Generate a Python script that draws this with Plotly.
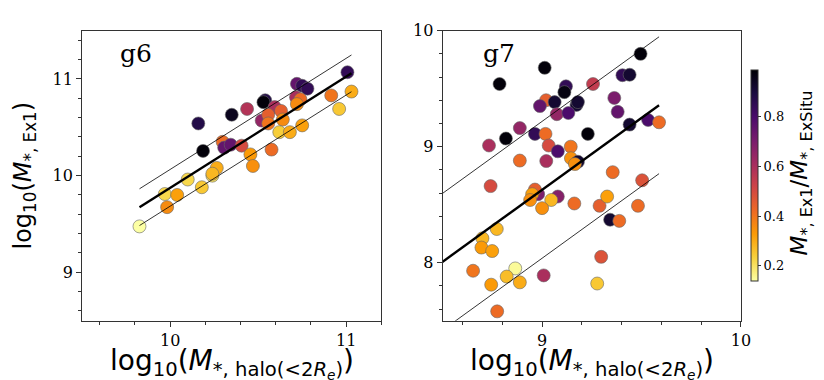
import plotly.graph_objects as go
import numpy as np

# g6 sample
g6_x = [9.826, 9.983, 9.97, 10.04, 10.10, 10.18, 10.24, 10.265, 10.24, 10.187, 10.16, 10.35, 10.437,
        10.298, 10.307, 10.344, 10.406, 10.456, 10.47, 10.576, 10.54, 10.53, 10.594, 10.52, 10.557,
        10.557, 10.63, 10.64, 10.62, 10.68, 10.75, 10.72, 10.75, 10.78, 10.715, 10.74, 10.72, 10.915,
        10.96, 11.007, 11.03]
g6_y = [9.475, 9.674, 9.81, 9.80, 9.96, 9.88, 10.0, 10.08, 10.02, 10.256, 10.54, 10.63, 10.69,
        10.35, 10.29, 10.32, 10.31, 10.22, 10.10, 10.27, 10.78, 10.76, 10.71, 10.57, 10.63,
        10.54, 10.67, 10.58, 10.45, 10.45, 10.52, 10.95, 10.93, 10.90, 10.81, 10.79, 10.74, 10.83,
        10.69, 11.07, 10.87]
g6_c = [0.12, 0.36, 0.22, 0.32, 0.22, 0.25, 0.2, 0.3, 0.28, 0.98, 0.88, 0.95, 0.58,
        0.42, 0.75, 0.75, 0.5, 0.33, 0.35, 0.42, 0.88, 0.98, 0.6, 0.65, 0.45,
        0.4, 0.45, 0.36, 0.24, 0.3, 0.32, 0.75, 0.85, 0.85, 0.6, 0.42, 0.36, 0.4,
        0.25, 0.85, 0.3]

# g7 sample
g7_x = [9.495, 9.013, 8.786, 9.404, 9.44, 9.12, 9.112, 9.256, 9.02, 9.063, 8.989, 9.074, 9.173,
        9.18, 9.132, 9.363, 9.38, 9.44, 9.533, 9.588, 8.888, 8.818, 8.964, 9.017, 9.23, 8.733,
        9.033, 9.079, 9.144, 8.888, 9.021, 9.145, 9.18, 9.165, 9.355, 9.503, 8.741, 8.98,
        8.964, 8.95, 8.94, 9.079, 9.046, 9.0, 9.162, 9.289, 9.327, 9.482, 9.342, 9.388, 8.772,
        8.70, 8.695, 8.749, 8.653, 8.865, 8.822, 8.888, 8.744, 9.008, 9.297, 9.277, 8.774]
g7_y = [9.80, 9.68, 9.54, 9.616, 9.62, 9.52, 9.47, 9.54, 9.40, 9.384, 9.35, 9.28, 9.36,
        9.384, 9.29, 9.42, 9.30, 9.19, 9.23, 9.21, 9.16, 9.07, 9.11, 9.11, 9.11, 9.01,
        9.01, 8.96, 9.00, 8.88, 8.876, 8.90, 8.87, 8.85, 8.78, 8.71, 8.66, 8.59,
        8.63, 8.59, 8.54, 8.57, 8.54, 8.47, 8.51, 8.49, 8.57, 8.49, 8.37, 8.36, 8.29,
        8.21, 8.13, 8.10, 7.93, 7.95, 7.88, 7.83, 7.81, 7.89, 8.05, 7.82, 7.58]
g7_c = [0.98, 0.98, 0.98, 0.85, 0.92, 0.85, 0.97, 0.55, 0.45, 0.92, 0.75, 0.65, 0.92,
        0.92, 0.8, 0.7, 0.75, 0.92, 0.8, 0.42, 0.65, 0.98, 0.85, 0.42, 0.98, 0.6,
        0.5, 0.8, 0.4, 0.42, 0.6, 0.35, 0.92, 0.35, 0.42, 0.48, 0.5, 0.7,
        0.45, 0.32, 0.35, 0.68, 0.28, 0.35, 0.42, 0.45, 0.32, 0.42, 0.92, 0.42, 0.28,
        0.28, 0.33, 0.32, 0.4, 0.15, 0.27, 0.3, 0.33, 0.6, 0.48, 0.25, 0.42]

# fit: slope, intercept, scatter, x-range
g6_fit = [1.15, -1.626, 0.19]
g6_fit_x = [min(g6_x), max(g6_x)]
g7_fit = [1.24, -2.532, 0.59]
g7_fit_x = [8.4, max(g7_x)]

W, H = 824, 380
serif = "DejaVu Serif"
sans = "DejaVu Sans"

fig = go.Figure()

def add_panel(xs, ys, cs, fit, fit_x, xa, ya):
    fig.add_trace(go.Scatter(x=xs, y=ys, mode='markers', xaxis=xa, yaxis=ya, showlegend=False,
                             marker=dict(size=13, color=cs, coloraxis='coloraxis',
                                         line=dict(color='#666666', width=0.6), opacity=1)))
    fx = np.array(fit_x)
    m, b, s = fit
    fig.add_trace(go.Scatter(x=fx, y=m * fx + b, mode='lines', xaxis=xa, yaxis=ya, showlegend=False,
                             line=dict(color='black', width=2.4)))
    for off in (s, -s):
        fig.add_trace(go.Scatter(x=fx, y=m * fx + b + off, mode='lines', xaxis=xa, yaxis=ya,
                                 showlegend=False, line=dict(color='black', width=0.8)))

add_panel(g6_x, g6_y, g6_c, g6_fit, g6_fit_x, 'x', 'y')
add_panel(g7_x, g7_y, g7_c, g7_fit, g7_fit_x, 'x2', 'y2')

ydom = [1 - 311 / H, 1 - 14 / H]
ax = dict(showline=True, linecolor='#333333', linewidth=1, mirror=True, ticks='outside', ticklen=5,
          tickcolor='#333333', showgrid=False, zeroline=False, tickfont=dict(family=serif, size=16, color='black'))
minor = dict(ticks='outside', dtick=0.2, tick0=0, ticklen=3, tickcolor='#333333')
xtitle = "log<sub>10</sub>(<i>M</i><sub>*, halo(&lt;2<i>R<sub>e</sub></i>)</sub>)"

fig.update_layout(
    width=W, height=H, margin=dict(l=0, r=0, t=0, b=0),
    plot_bgcolor='white', paper_bgcolor='white',
    xaxis=dict(ax, domain=[75 / W, 378 / W], range=[9.5, 11.2], tickvals=[10, 11], minor=minor),
    yaxis=dict(ax, domain=ydom, range=[8.5, 11.5], tickvals=[9, 10, 11], minor=minor,
               title=dict(text="log<sub>10</sub>(<i>M</i><sub>*, Ex1</sub>)",
                          font=dict(family=sans, size=24, color='black'), standoff=14)),
    xaxis2=dict(ax, domain=[440 / W, 742 / W], range=[8.5, 10], tickvals=[9, 10], anchor='y2', minor=minor),
    yaxis2=dict(ax, domain=ydom, range=[7.5, 10], tickvals=[8, 9, 10], anchor='x2', minor=minor),
    coloraxis=dict(colorscale='Inferno', reversescale=True, cmin=0.14, cmax=0.99,
                   colorbar=dict(x=752 / W, xanchor='left', xpad=0, ypad=0, y=1 - 162 / H, yanchor='middle',
                                 len=216 / H, lenmode='fraction', thickness=7, outlinewidth=1,
                                 outlinecolor='#333333', tickvals=[0.2, 0.4, 0.6, 0.8], ticks='outside',
                                 ticklen=3, tickcolor='#333333',
                                 tickfont=dict(family=serif, size=13, color='black'))),
    annotations=[
        dict(text="g6", xref='x domain', yref='y domain', x=0.119, y=0.92, xanchor='left', yanchor='middle',
             showarrow=False, font=dict(family=serif, size=25, color='black')),
        dict(text="g7", xref='x2 domain', yref='y2 domain', x=0.13, y=0.92, xanchor='left', yanchor='middle',
             showarrow=False, font=dict(family=serif, size=25, color='black')),
        dict(text=xtitle, xref='x domain', yref='paper', x=0.5, y=3 / H, xanchor='center', yanchor='bottom',
             showarrow=False, font=dict(family=sans, size=28, color='black')),
        dict(text=xtitle, xref='x2 domain', yref='paper', x=0.5, y=3 / H, xanchor='center', yanchor='bottom',
             showarrow=False, font=dict(family=sans, size=28, color='black')),
        dict(text="<i>M</i><sub>*, Ex1</sub>/<i>M</i><sub>*, ExSitu</sub>", textangle=-90,
             xref='paper', yref='paper', x=803 / W, y=1 - 160 / H, xanchor='center', yanchor='middle',
             showarrow=False, font=dict(family=sans, size=23, color='black')),
    ],
)

fig.write_html("out.html")
